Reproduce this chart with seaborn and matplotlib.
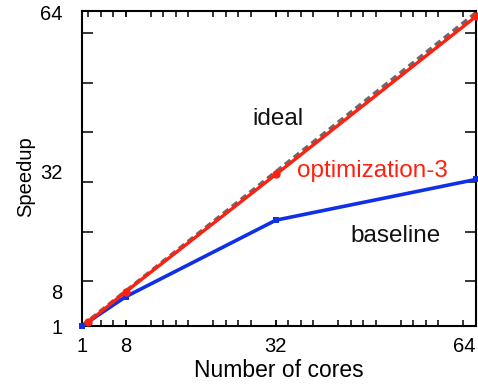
import matplotlib
matplotlib.use("Agg")
import matplotlib.pyplot as plt
import seaborn as sns
import pandas as pd

# Data
cores_ideal = [1, 8, 32, 64]
speedup_ideal = [1, 8, 32, 64]
cores_opt = [2, 8, 32, 64]
speedup_opt = [1.8, 7.9, 31.5, 63.3]
cores_base = [1, 8, 32, 64]
speedup_base = [1.0, 6.9, 22.3, 30.5]

x_tick_vals = [1, 8, 32, 64]
x_tick_labels = ["1", "8", "32", "64"]
y_tick_vals = [1, 8, 32, 64]
y_tick_labels = ["1", "8", "32", "64"]

sns.set_theme(style="white")
plt.rcParams['font.family'] = ['Liberation Sans', 'DejaVu Sans']

df = pd.concat([
    pd.DataFrame({"cores": cores_ideal, "speedup": speedup_ideal, "series": "ideal"}),
    pd.DataFrame({"cores": cores_opt, "speedup": speedup_opt, "series": "optimization-3"}),
    pd.DataFrame({"cores": cores_base, "speedup": speedup_base, "series": "baseline"}),
])

fig = plt.figure(figsize=(4.78, 3.91), dpi=100)
ax = fig.add_axes([82/478, 1-326/391, (476-82)/478, (326-11)/391])

red = "#ff2010"
blue = "#1030e6"
gray = "#6a6a6a"

sns.lineplot(data=df[df.series == "ideal"], x="cores", y="speedup", ax=ax,
             color=gray, lw=2.8, dashes=False, linestyle=(0, (1.8, 1.1)), zorder=2)
sns.lineplot(data=df[df.series == "baseline"], x="cores", y="speedup", ax=ax,
             color=blue, lw=2.6, marker="s", markersize=5, markeredgewidth=0, zorder=3)
sns.lineplot(data=df[df.series == "optimization-3"], x="cores", y="speedup", ax=ax,
             color=red, lw=2.4, marker="o", markersize=6, markeredgewidth=0, zorder=4)
for ln in ax.get_lines():
    ln.set_clip_on(False)

ax.set_xlim(1, 64)
ax.set_ylim(1, 64.4)

# x ticks
ax.set_xticks(x_tick_vals)
ax.set_xticklabels(x_tick_labels)
ax.set_xticks([v for v in range(2, 64, 2) if v % 10 != 0], minor=True)
ax.tick_params(axis="x", which="major", direction="in", length=4, width=1.3,
               top=True, bottom=True, labelsize=14.5, pad=8, colors="black")
ax.tick_params(axis="x", which="minor", direction="in", length=4, width=1.3,
               top=True, bottom=True)
for lbl in ax.get_xticklabels():
    if lbl.get_text() == "64":
        lbl.set_horizontalalignment("right")

# y ticks: unlabeled marks every 10, labels at 1, 8, 32, 64
ax.set_yticks(range(10, 61, 10))
ax.set_yticklabels([])
ax.set_yticks(y_tick_vals, minor=True)
ax.set_yticklabels(y_tick_labels, minor=True)
ax.tick_params(axis="y", which="major", direction="in", length=8, width=1.3,
               left=True, right=True)
ax.tick_params(axis="y", which="minor", length=0, labelsize=14.5, pad=14,
               colors="black")

for s in ax.spines.values():
    s.set_color("black")
    s.set_linewidth(1.5)

ax.set_xlabel("Number of cores", fontsize=16.5, labelpad=2, color="black")
ax.set_ylabel("Speedup", fontsize=14.5, color="black")
ax.yaxis.set_label_coords(-0.119, 0.473)

ax.text(28.2, 41.4, "ideal", fontsize=17.5, color="#111111", ha="left", va="baseline")
ax.text(35.4, 31.0, "optimization-3", fontsize=17.5, color=red, ha="left", va="baseline")
ax.text(44.0, 17.9, "baseline", fontsize=17.5, color="#111111", ha="left", va="baseline")

fig.savefig("out.png", dpi=100)
